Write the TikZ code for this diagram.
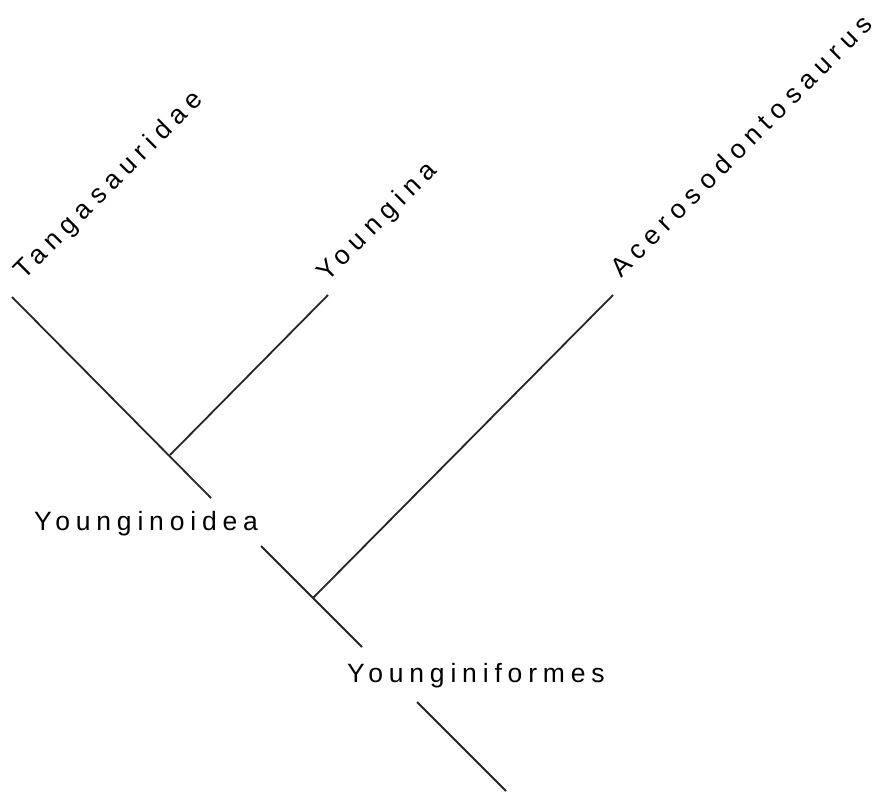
\documentclass[tikz,border=0pt]{standalone}
\usepackage{fontspec}
\newfontfamily\labfont[LetterSpace=22]{Liberation Sans}
\newfontfamily\diagfont[LetterSpace=25.5]{Liberation Sans}
\begin{document}
\begin{tikzpicture}[x=1pt,y=-1pt,
  branch/.style={line width=1.8pt,draw=black!85},
  taxon/.style={font=\labfont\fontsize{26.5}{30}\selectfont,text=black,inner sep=0pt,anchor=base west},
  diag/.style={taxon,font=\diagfont\fontsize{26.5}{30}\selectfont,rotate=45}]
\useasboundingbox[fill=white] (0,0) rectangle (882,794);
% coordinates
\coordinate (tTop) at (12,297);
\coordinate (yJ) at (170,455);
\coordinate (s1End) at (211,498);
\coordinate (s2Start) at (261,546);
\coordinate (aJ) at (313,598);
\coordinate (s2End) at (362,647);
\coordinate (s3Start) at (417,702);
\coordinate (s3End) at (506,791);
\coordinate (yTop) at (328,295);
\coordinate (aTop) at (613,295);
% branches
\draw[branch] (tTop) -- (s1End);
\draw[branch] (s2Start) -- (s2End);
\draw[branch] (s3Start) -- (s3End);
\draw[branch] (yJ) -- (yTop);
\draw[branch] (aJ) -- (aTop);
% labels
\node[diag] (tang) at (24,281) {Tangasauridae};
\node[diag] (young) at (327,283) {Youngina};
\node[diag] (acero) at (621,279) {Acerosodontosaurus};
\node[taxon] (yoidea) at (34,530) {Younginoidea};
\node[taxon] (yformes) at (347,682) {Younginiformes};
\end{tikzpicture}
\end{document}
